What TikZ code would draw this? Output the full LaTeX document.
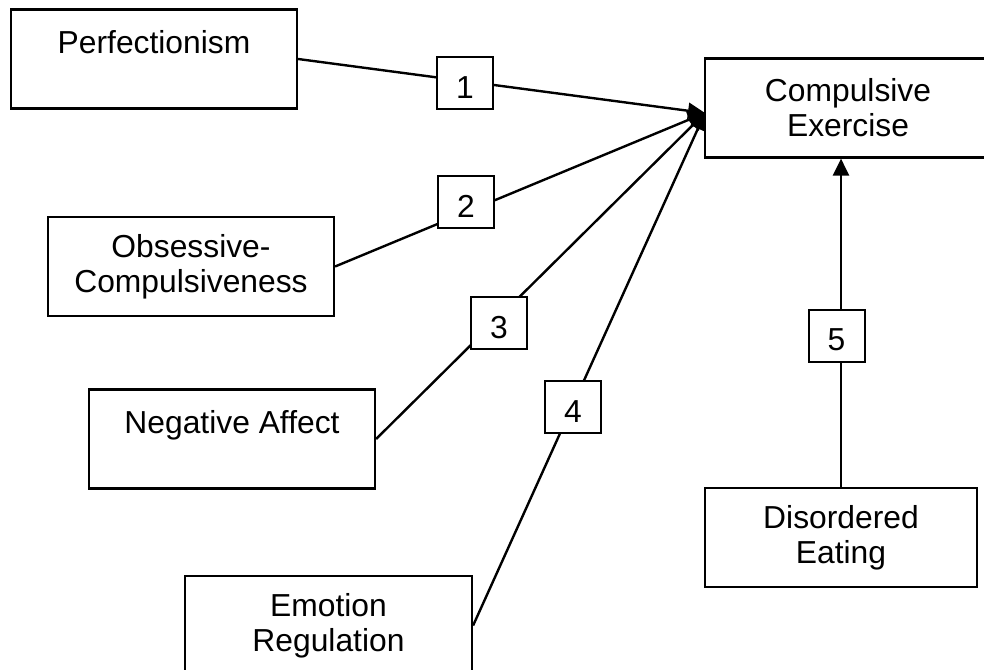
\documentclass[tikz,border=0pt]{standalone}
\usepackage{fontspec}
\setmainfont{Liberation Sans}
\usetikzlibrary{arrows.meta}
\begin{document}
\begin{tikzpicture}[x=0.5pt,y=-0.5pt,
  every node/.style={font=\fontsize{15.9}{17.5}\selectfont, align=center},
  factor/.style={draw, line width=1.1pt, fill=white, inner sep=0pt,
    minimum width=#1*0.5pt, minimum height=49.5pt},
  factor/.default=286,
  pathnum/.style={draw, line width=1pt, fill=white, inner sep=0pt,
    minimum width=28pt, minimum height=26pt, text height=15pt, text depth=0pt},
  link/.style={line width=1.2pt, -{Triangle[length=8.5pt,width=8pt]}}]
  \useasboundingbox (0,0) rectangle (984,669);

  % variables
  \node[factor] (perf) at (154,59) {Perfectionism\\\mbox{}};
  \node[factor] (comp) at (848,108) {Compulsive\\Exercise};
  \node[factor] (obs)  at (191,266.5) {Obsessive-\\Compulsiveness};
  \node[factor] (neg)  at (232,439) {Negative Affect\\\mbox{}};
  \node[factor=287] (emo)  at (328.5,625.5) {Emotion\\Regulation};
  \node[factor=272] (dis)  at (841,537.5) {Disordered\\Eating};

  % paths into compulsive exercise
  \coordinate (hub) at (705,113);
  \draw[link] (perf.east) -- (hub);
  \draw[link] (obs.east)  -- (hub);
  \draw[link] (neg.east)  -- (hub);
  \draw[link] (emo.east)  -- (hub);
  \draw[link] (dis.north) -- (dis.north |- comp.south);

  % path numbers
  \node[pathnum] (n1) at (465,83)  {1};
  \node[pathnum] (n2) at (466,202) {2};
  \node[pathnum] (n3) at (499,323) {3};
  \node[pathnum] (n4) at (573,407) {4};
  \node[pathnum] (n5) at (836.5,335.5) {5};
\end{tikzpicture}
\end{document}
